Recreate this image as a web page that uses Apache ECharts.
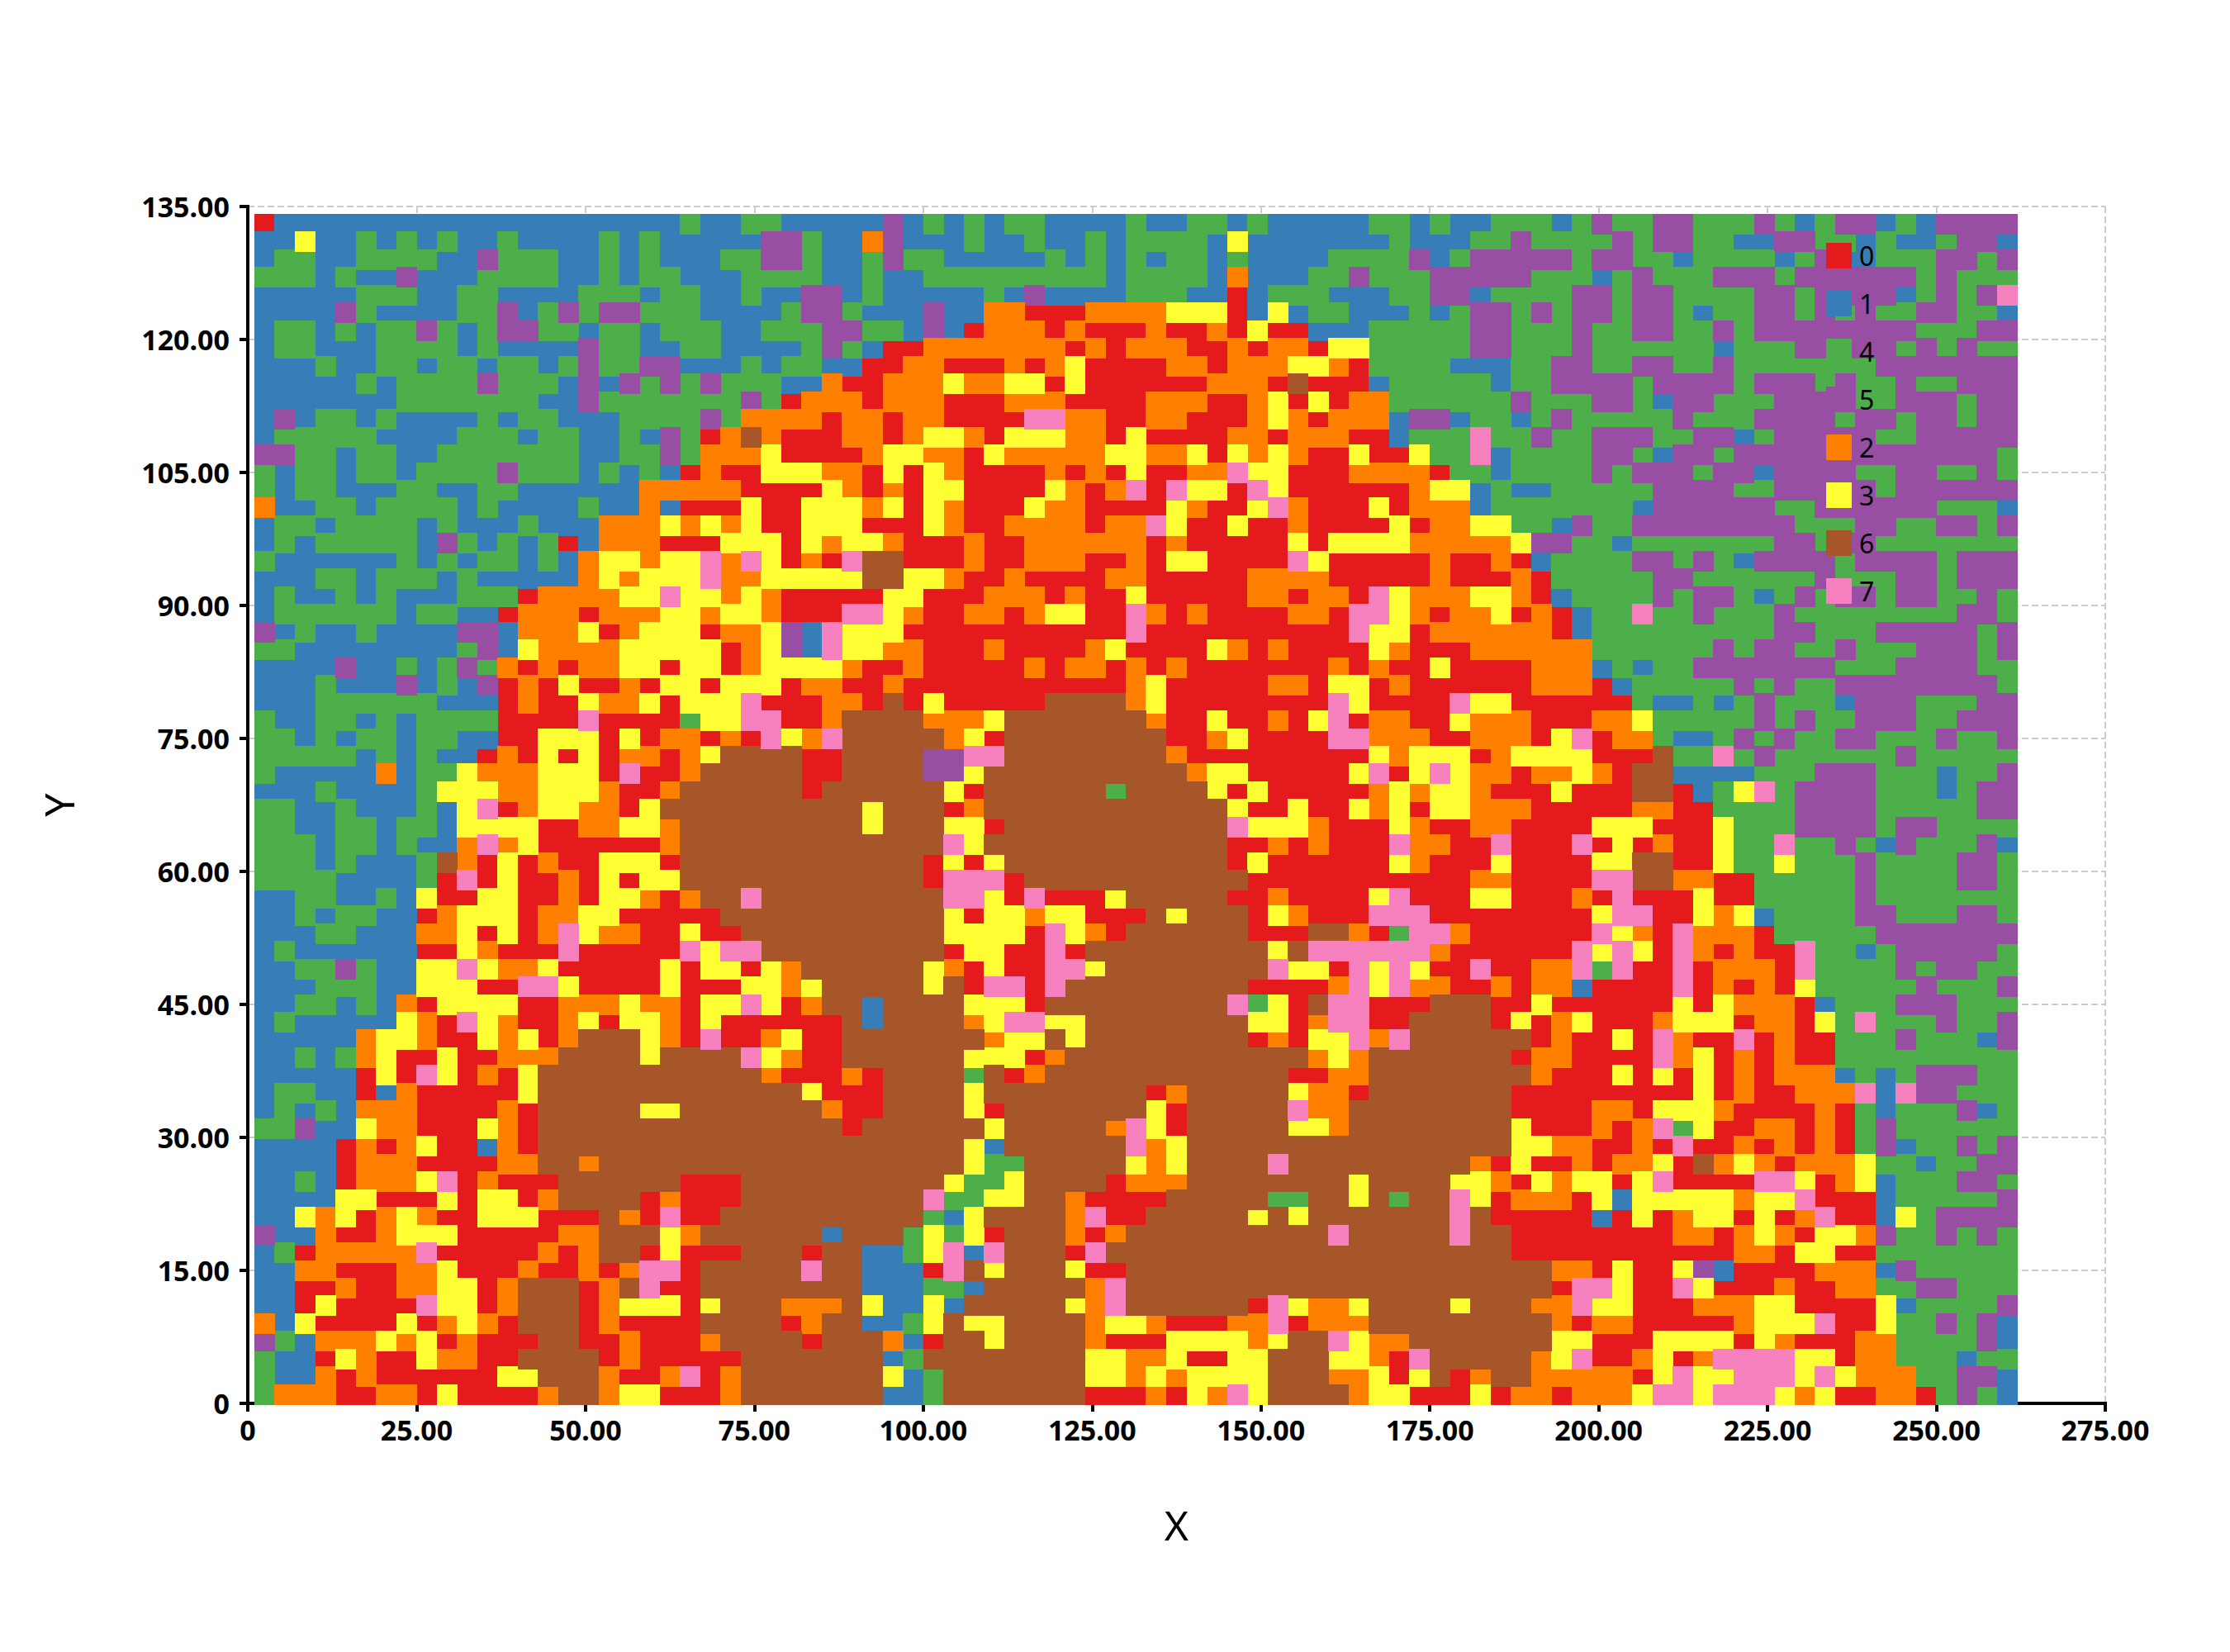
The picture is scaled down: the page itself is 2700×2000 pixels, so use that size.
<!DOCTYPE html>
<html>
<head>
<meta charset="utf-8">
<script src="https://cdn.jsdelivr.net/npm/echarts@6/dist/echarts.min.js"></script>
<style>html,body{margin:0;padding:0;background:#fff}#c{width:2700px;height:2000px}#c svg path{shape-rendering:crispEdges}</style>
</head>
<body>
<div id="c"></div>
<script>
const classNames = ['0','1','4','5','2','3','6','7'];
const classColors = ['#e41a1c','#377eb8','#4daf4a','#984ea3','#ff7f00','#ffff33','#a65628','#f781bf'];
const xTicks = [0,25,50,75,100,125,150,175,200,225,250,275];
const yTicks = [0,15,30,45,60,75,90,105,120,135];
const firstX = 2.5, stepX = 3, topY = 133, stepY = 2;
// one string per grid row, top row first; each digit is the class of one cell
const cellRows = [
"0 11111111111111111111 | 4 11 44 11111 5 1 4 1 4 1 44 1111 4 | 11 44 1 4 11111 44 1 4 11 444 1 4 | 5 44 55 444 5 4 1 4 55 1 4 1 5555",
"11311 4 1 4 1 4 11 4 1111 4 1 4 1 | 1111 55 4 11 2 5 111 4 11 4 11 4 1 4 | 444 1 3 1111111 4 111 44 5 444 | 4 5 4 55 44 11 55 44 1 4 11 4 55 1",
"1 44 11 4444 11 5 444 11 4 1 4 1 | 11 44 55 4 11 4 5 44 11111 4 1 4 1 4 | 1 44 1 4 1111 4444 5 1 4 55555 4 | 55 44 1 4444 1 4 5 1 1 444 55 4 5",
"444 1 4 11 5 111 4444 11 4 1 44 | 111 4444 11 4 11 444444444 1 4 | 444 1 2 111 44 5 444 55555 444 | 1 4 5 444 555 4 555555 4 5 444",
"11111 444 11 44 1111 444 1 4 | 4 11 4 11 55 1 4 11111 4 1 5 1111 4 | 44 11 0 1 444 111 44 55 1 4444 5 | 5 4 55 4444 55 4 5 5 55 1 4 5 4 5 7",
"1111 5 4 1111 44 5 1 4 5 4 55 44 | 4 1111 4 55 4 111 5 11 22 000 222 | 2 333 0 1 3 1 44 111 4 1 4 55 4 5 4 5 | 5 4 55 4 1 44 55 4 5 4 5 44 55 44 1",
"1 44 1 4 1 44 5 4 1 4 55 44 1 44 1 4 | 44 11 444 55 44 1 5 1 0 222 0 2 000 | 2 00 2 0 3 00 111 44444 55 444 5 | 44 55 44 5 4 55555555 444 55",
"1 44 111 4444 1 4 1111 5 44 11 | 44 1111 4 5 4 1 00 2222222 0 2 0 2 | 22 00 2 0 22 0 33 44444 55 444 5 | 444444 1 444 55555 4 5 4 5 44",
"111 4 11 44 1 44 1 44 1 4 5 44 55 | 111 4 1 44 11 00 22 000 2 0 2 3 000 | 0 22 0 222 33 2 0 4444 111 44 55 | 44 55 44 5 4444444 5555555",
"11111 4 1 4444 5 444 1 5 1 5 4 5 | 4 5 444 11 2 00 222 3 22 33 0 3 000 | 000 222 0 6 000 1 44444 1 44 55 | 55 4 5555 4 555 4 5 44 5 44 555",
"1111111 4444444 11 5 4444 | 444 5 4 0 222 0 222 000 222 0000 | 222 00 2 3 0 3 0 22 444444 5 444 | 55 4 1 55 444 5555 44 555 4 55",
"1 5 1 44 1 4 1111 4 1 44 111 444 | 4 5 4 2222 0 22 0 22 0000 77 22 00 | 22 000 2 3 2 0 222 1 55 1 44 1 4 5 4 | 4444 5 444 5555 4 55 4 55 4 55",
"1 44444 1111 444 1 44 11 4 1 5 | 4 0 2 6 2 000 22 0 2 33 2 0 333 22 0 3 | 0000 22 0 222 00 1 444 7 44 5 44 | 555 44 55 1 4 55555 44 55555",
"55 44 1 44 11 4444444 11 44 5 | 4 222 3 0000 2 33 22 0 3 22222 33 | 22 3 0 3 2 3 2 00 3 00 3 44 7 1 4444 | 55 4 1 55 4 5555555555555 4",
"4 1 44 1 44 1 4444 5 444 1 4 1 4 1 | 0 2 00 333 22 0 3 0 3 2 0000 2 0 2 0 3 | 00 22 7 33 000 2222 0 44 1 4444 | 5 4 555 4 55 1 5555 44 55 44 5 4",
"4 1 44 111 44 11 44 111111 22 | 222 0000 3 2 0 2 0 33 0000 3 2 0 2 7 | 0 7 33 0 7 3 000000 2 33 1 4 11 44 | 444 5555 44 55555 4 555555",
"2 11 44 1 4444 1 4 1111 4 11 2 1 | 000 3 00 333 2 3 0 3 2 000 3 22 000 | 0 3 2 00 3 7 2 000 3 0 222 1 44444 | 44 1 555555 44 555555 444 1",
"1 44 1 4444 1 4 111 4 111 222 3 | 2 3 2 3 00 333 000 3 2 00 2222 0 22 | 7 3 00 3 00 2 0000 3 0 22 33 44 1 5 | 44 55555555 444 55 44 55 4 5",
"1 4 1 44444 1 5 4 1 4 1 4 0 1 222 0 | 00 333 0 3 2 33 2 000 2 00 222222 | 0 2 00000 3 0 3333 22222 3 55 4 | 4 1 4444444 55 4 55 4444444",
"4 111111 4 1 4 1 44 1 4 1 2 33 2 3 | 3 7 2 7 3 0 2 0 7 66 000 2 00 222 00 2 | 0 33 0000 7 3 00000 2 00 2 0 1 44 | 44 55 4 5 4 1 5555 4 5555 4 555",
"111 44 1 444 1 4 11111 2 3 2 33 | 3 7 22 33333 66 33 2 00 2 0000 22 | 00000 2222 00000 2 000 2 0 44 | 444 55 444444 5 444 55 4 555",
"1 4 11 4 1 4 111 444 0 2222 33 7 | 33 2 3 2 00000 33 000 222 0 2 00 3 | 00000 22 0 22 0 7 3 222 33 2 0 1 4 | 444 5 4 55 4 1 4 5 4 5 5 4 55 44 5 4",
"1 444444 1 44 11 0 222 0 222 3 | 3 2 33 2 000 77 3 2 00 22 0 2 33 00 7 | 2 0 2 0000 22 0 77 3 2 0 22 3 0 2 0 1 | 44 7 44 5 444 5 44444444 55 4",
"5 1 4 11 4 1111 55 1 222 3 0 2 33 | 3 0 22 3 5 1 7 333 00000000000 7 | 0000000000 7 33 0 222222 0 1 | 444444444 55 444 55555 4 5",
"44 11111111 4 5 1 3 2222 333 | 33 0 2 3 5 1 7 33 22 000 2 0000 2 3 0 | 000 3 2 0 2 0000 3 2 000 222222 | 444444 5 4 55 44 5 444 555 4 5",
"1111 5 11 4 1 4 5 4 2 0 2 0 22 33 0 | 33 0 2 3333 2 00 2 00000 2 0 22 0 2 | 0 2 0000000 2 0 2 00 3 0000 222 | 1 4 1 44 5555555 444 5555 44",
"111 4 111 5 1 4 1 5 0 2 0 3 00 2 0 3 | 3 0 333 0 22 00 2 00000000000 2 | 3 00000 22 0 33 0 2 000000 222 | 0 1 44444 5 4 5 44 55555555 4",
"111 444444 111 0 2 00 3 22 3 0 | 333 7 000 22 0 6 0 3 00000 6666 2 | 3 00000000 7 3 0000 7 33 0000 | 00 4 11 4 1 4 5 444 1 555 444 55",
"4 11 44 1 4 1 4444 0000 7 0000 | 4 33 77 00 2 6666 222 3 6666666 | 2 00 3 00 2 0 3 7 0 22 00 3 222 000 | 22 3 44444 5 4 5 44 555 44 555",
"44 1 4 1 44 1 44 11 00 333 0 3 0 2 | 2 0 2 0 7 3 2 7 66666 2 3 0 6666666 | 6 00 2 3 0000 77 222 00 222 0 3 7 | 0 22 4 11 4 5 4 5 44 55 444 5 44 5",
"44444 1 4 1 4 11 0 2 0 3 0 3 0 22 0 | 2 3 6666 00 6666 55 77 6666666 | 6 2 000000000 3 2 333 0 2 3333 | 000 6 44 7 4 5 444444 5 44444",
"4 11111 2 1 44 3 222 333 0 7 00 | 2 66666 00 6666 55 3 66666666 | 66 2 33 00000 3 7 0 3 7 3 22 0 22 3 | 2 0 66 1111 444 555 444 1 44 5",
"111 4 1111 4 333 22 333 2 00 2 | 666666 0 666666 3 0 666666 4 6 | 666 3 0 3 00000 2 3 2 33 2 000 3 0 | 00 66 0 1 4 3 7 4 5555 444 1 4 55",
"44 11 4 111 4 1 3 7 0 2 33 22 0 3 6 | 666666666 3 666 0 2 66666666 | 6666 3 00 3 00 3 2 3 0 33 222 000 | 00 22 00 4444 5555 44444 55",
"44 11 44 1 44 1 3333 00 22 33 2 | 666666666 3 666 33 0 6666666 | 6666 7 333 2 000 3 2 00 22 0000 | 333 000 3 444 5555 4 55 4444",
"444 1 44 1 4 11 2 7 2 3 000000 2 | 6666666666666 7 3 66666666 | 6666 00 2 0 2 000 7 22 00 7 000 7 | 0 3 0 2 00 3 44 7 44 5 4 1 5 444 5 1",
"444 1 4 111 4 6 2 0 3 0 2 00 333 0 | 666666666666 0 3 0 3 6666666 | 6666 0 3 000000 3 2 000 3 0000 | 33 66 00 3 44 3 444 5 4444 55 4",
"4444 1111 4 0 7 0 3 00 2 0 3 0 33 | 666666666666 0 777 0 666666 | 66666 00000000000 22 0000 | 77 66 22 00 44444 5 4444 55 4",
"11 44 11 4 1 3 00 33 00 2 0 33 2 0 | 2 66 7 666666666 77 3 0 7 000 3 6 | 6666 00 2 0000 3 7 000 33 000 2 | 0 7 000 3 00 44444 5 4444444",
"11 4 1 44 11 0 2 333 0 22 33 000 | 00 66666666666 3 0 33 2 33 000 | 6 3 666 0 3 2 000 777 00000000 | 3 77 00 3 2 3 1 4444 55 444 55 4",
"111 44 111 22 3 0 3 0 2 7 3 22 00 | 3 00 6666666666 3333 0 7 3 2 0 6 | 66666 000 66 2 0 4 77 2 000000 | 7 3 2 0 7 222 0 44444 5555555",
"1 4 111111 00 3 2 000 7 00000 | 7 3 77 666666666 0 33 00 7 0 666 | 666666 3 6 777777 2 000000 7 | 3 7 3 0 7 2 0 2 00 7 44 1 4 55555 4",
"11 44 5 4 11 33 7 3 22 3 00000 3 | 0 33 0 3 2 666666 3 2 0 3 00 77 3 66 | 666666 7 33 0 7 3 7 3 00 7 00 22 7 | 4 7 00 7 0 222 0 7 4444 5 4 55 44",
"111 444 11 333 00 77 3 0000 3 | 000 33 2 3 66666 3 6 0 77 0 7 6666 | 66666 0000 2 7 3 7 22 00 2 0 22 1 | 0000 7 0 2 0 2 0 3 44444 5 444 5",
"11 44 1 4 1 2 0 3333 00 222 3 22 | 0 33 7 3 0 2 66 1 6666 333 0 66666 | 6666 7 4 3 0 6 77 000 666 00 3 00 | 0000 3 0 3 222 0 1 444 555 444",
"1 4 11111 3 2 0 7 3 2 00 2 3 0 33 2 | 0 3 000000 6 1 6666 2 3 77 33 666 | 66666 33 0 2 77 00 6666 0 3 0 2 3 | 000 2 333 0 22 0 3 4 7 444 5 44 5",
"11111 2 33 2 00 3 2 3 0 2 666 3 2 | 0 7 00 2 3 00 6666666 2 33 6 3 666 | 66666 0 2 0 33 7 2 7 666666 0 2 0 | 0 3 0 7 2 00 7 0 2 00 444 5 444 1 5",
"11 4 1 4 2 3 00 3 00 222 6666 3 6 | 666 7 3 2 00 666666 333 0 2 6666 | 66666666 2 3 2 6666666 0 22 0 | 000 7 2 3 0 2 0 2 00 444444444",
"11111 0 3 0 7 3 0 2 0 3 6666666 | 6666 2 000 2 0 6666 4 6 0 2 66666 | 6666666 00 22 66666666 2 00 | 0 3 0 3 0 3 0 2 0 222 1 4 1 4 555 44",
"1 44 11 0 1 2 00000 3 6666666 | 666666 3 000 6666 3 66666666 | 0 2 66666 3 22 0 6666666 0000 | 00000 3 0 2 00 222 7 1 7 55 444",
"1 4 1 4 1 222 0000 2 0 66666 33 | 6666666 2 00 6666 3 0 6666666 | 3 0 66666 7 22 66666666 0000 | 22 0 333 2 0000 2 0 4 1 444 5 1 4",
"44 5 11 3 22 000 3 2 0 6666666 | 66666666 0 666666 3 66666 2 7 | 3 0 66666 33 2 66666666 3 000 | 2 0 2 7 4 3 00 22 0 2 0 4 5 444444",
"1111 0 2 0 2 3 00 1 2 0 6666666 | 66666666666666 3 1 666666 7 | 2 3 6666666666666666 33 22 | 00 2 0 7 00 2 0 2 0 2 0 4 5 1 44 5 4 5",
"1111 0 222 0000 22 66 2 6666 | 66666666666666 3 44 66666 3 | 2 3 6666 7 666666666 2 0 3 00 2 | 0 22 3 0 6 2 3 2 0 222 3 44 1 44 55",
"11 4 1 0 222 3 7 0 2 000 666666 | 000 6666666666 3 44 3 6666 0 2 | 22 66666666 3 6666 33 2 0 3 2 3 | 3 0 3 7 0000 77 3 0 2 3 1 444 55 4",
"1111 33 000 3 0 33 0 2 6666 0 2 | 000 666666666 7 44 33 66 2 000 | 0 66666 44 66 3 6 4 66 7 3 0 222 0 | 3 1 33333 2 33 7 000 1 44444 5",
"11 3 2 3 0 2 3 2 00 333 000 6 2 0 7 | 00 6666666666 4 1 3 6666 2 7 00 | 66666 3 6 3 6666666 7 6 00000 | 1 0 3 0 2 33 0 3 0 2 7 00 1 3 4 5555",
"5 11 2 00 2 333 00000 22 666 3 | 2 666666 1 666 4 3 4 3 0 666 2 0 2 6 | 666666666 7 66666 7 66 0000 | 0000 22 0 2 3 2 0 33 2 5 44 5 4 5 4",
"1 4 0 22222 7 00000 2 0 2 66 0 3 | 000 666 0 66 11 4 3 7 1 7 666 0 7 66 | 666666666666666666 0000 | 0000000 22 0 33 00 4444444",
"11 22 000 22 3 000 2 00 2 0 2 77 | 0 66666 7 66 111 0 7 6 3 666 3 00 6 | 66666666666666666666 22 | 0 3 00 3 5 1 0000 222 1 5 44444",
"11 00 2 00 22 33 0 2 666 0 2 6 7 0 | 0 66666666 111 44 1 66666 2 7 6 | 66666666666666666666 0 7 | 7 3 00 7 3 000 2 00 22 44 55 444",
"11 0 3 0000 7 33 0 2 666 0 2 333 | 0 3 666 222 6 3 11 3 1 66666 3 2 7 6 | 66666 0 7 3 22 3 6666 3 666 22 7 | 33 000 222 33 0000 3 1 4444 5",
"2 1 3 0000 3 0 2 3 2 0 666 0 2 000 | 0 6666 0 2 66 11 4 3 6 33 6666 2 33 | 2 000 22 7 0 222 666666666 2 0 | 22 00000 2 333 7 00 3 44 5 4 5 1",
"5 4 1 222 3 2 3 0 2 000 66 00 2 00 | 0 2 6666 0 666 2 1 0 66 3 6666 2 00 | 0 3333 2 3 66 7 3 22 6666666 33 | 000 3333 0 3 2 000 22 4444 5 1",
"4 11 0 3 2 00 3 22 00 6666 0 2 00 | 000 6666666 1 4 66666666 33 2 | 2 3 00 33 666 33 2 0 7 66666 2 3 7 | 00 2 3 0 2 7777 33 0 22 444 1 44",
"4 11 2 0 2 000000 33 666 2 00 2 | 7 0 2 6666666 3 1 4 6666666 33 2 | 3 2 3333 666 22 3 0 3 6 0 2 66 222 | 22 0 3 7 33 777 3 7 3 222 44 55 1",
"4 222 00 22 0 3 0000 2 66 2 33 0 | 00 2 6666666 11 4 6666666 000 | 2 0 3 2 7 3 6666 2 33 000 3 0 22 0 2 | 22 3 77 3 777 3 2 3 00 22 0 4 5 4 1"
];

const byClass = {};
classNames.forEach(n => { byClass[n] = []; });
cellRows.forEach((text, r) => {
  const cells = text.replace(/[\s|]/g, '');
  if (cells.length !== 87) console.log('row', r, 'has', cells.length);
  for (let k = 0; k < cells.length; k++) {
    byClass[cells[k]].push([firstX + stepX * k, topY - stepY * r]);
  }
});

const fmt = v => (v === 0 ? '0' : v.toFixed(2));
const labelStyle = { color: '#000', fontFamily: 'Noto Sans', fontWeight: 'bold', fontSize: 34 };
const nameStyle = { color: '#000', fontFamily: 'Noto Sans', fontWeight: 'normal', fontSize: 50 };
const lineStyle = { color: '#000', width: 4 };
const splitStyle = { color: '#cccccc', width: 2, type: [8, 4] };

const chart = echarts.init(document.getElementById('c'), null, { renderer: 'svg' });
chart.setOption({
  animation: false,
  backgroundColor: '#fff',
  grid: { left: 300, right: 151, top: 250, bottom: 301, containLabel: false },
  legend: {
    orient: 'vertical', left: 2211, top: 293, padding: 0,
    itemWidth: 31, itemHeight: 31, itemGap: 26, icon: 'rect',
    selectedMode: false, data: classNames,
    textStyle: { color: '#000', fontFamily: 'Noto Sans', fontSize: 32, lineHeight: 27, padding: [0, 0, 4, 4] }
  },
  xAxis: {
    type: 'value', min: xTicks[0], max: xTicks[xTicks.length - 1], interval: xTicks[1] - xTicks[0],
    name: 'X', nameLocation: 'middle', nameGap: 122, nameTextStyle: nameStyle,
    axisLine: { show: true, onZero: false, lineStyle },
    axisTick: { show: true, length: 10, lineStyle },
    axisLabel: Object.assign({ margin: 15, formatter: fmt, showMinLabel: true, showMaxLabel: true }, labelStyle),
    splitLine: { show: true, lineStyle: splitStyle }
  },
  yAxis: {
    type: 'value', min: yTicks[0], max: yTicks[yTicks.length - 1], interval: yTicks[1] - yTicks[0],
    name: 'Y', nameLocation: 'middle', nameGap: 204, nameTextStyle: nameStyle,
    axisLine: { show: true, onZero: false, lineStyle },
    axisTick: { show: true, length: 10, lineStyle },
    axisLabel: Object.assign({ margin: 22, padding: [0, 0, 3, 0], formatter: fmt, showMinLabel: true, showMaxLabel: true }, labelStyle),
    splitLine: { show: true, lineStyle: splitStyle }
  },
  series: classNames.map((n, i) => ({
    name: n, type: 'scatter', symbol: 'rect', symbolSize: 25, silent: true,
    progressive: 0, large: false, clip: false,
    itemStyle: { color: classColors[i], opacity: 1 },
    emphasis: { disabled: true },
    data: byClass[n]
  }))
});
</script>
</body>
</html>
